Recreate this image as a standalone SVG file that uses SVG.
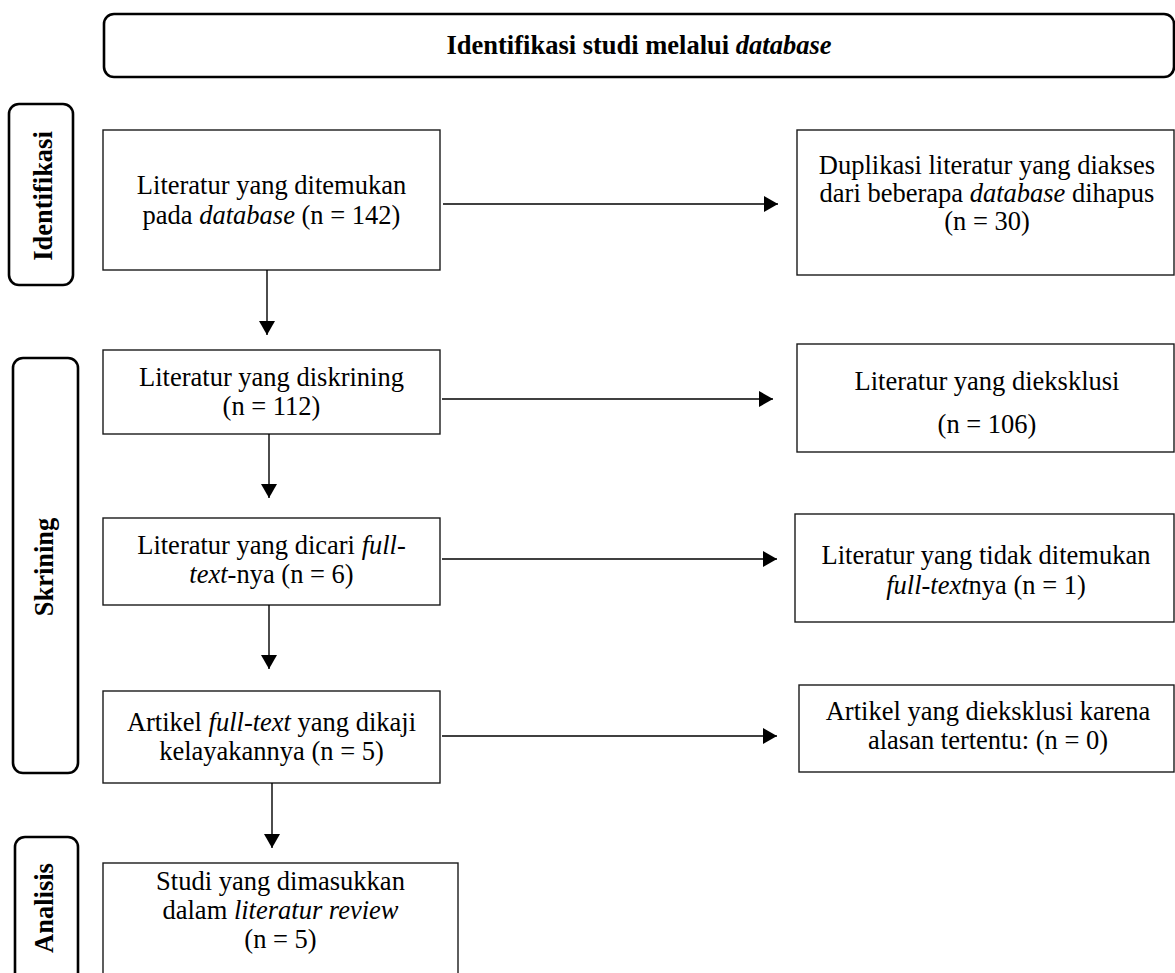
<svg xmlns="http://www.w3.org/2000/svg" width="1175" height="973" viewBox="0 0 1175 973">
<defs>
<marker id="ah" markerUnits="userSpaceOnUse" markerWidth="16" markerHeight="16" refX="14" refY="8" orient="auto">
<path d="M0,0 L14,8 L0,16 z" fill="#000"/>
</marker>
<style>
.box{fill:#fff;stroke:#1a1a1a;stroke-width:1.4}
.tag{fill:#fff;stroke:#000;stroke-width:2.6}
text{font-family:'Liberation Serif',Tinos,'Times New Roman',serif;font-size:26.5px;fill:#000;text-anchor:middle}
.b{font-weight:bold}
.i{font-style:italic}
.c{fill:none;stroke:#000;stroke-width:1.4;marker-end:url(#ah)}
</style>
</defs>
<rect width="1175" height="973" fill="#fff"/>

<g id="header">
<rect class="tag" x="104" y="14" width="1070" height="63" rx="10"/>
<text class="b" x="639" y="54">Identifikasi studi melalui <tspan class="i">database</tspan></text>
</g>

<g id="tag-identifikasi">
<rect class="tag" x="9" y="104" width="64" height="181" rx="10"/>
<text class="b" transform="translate(52,196) rotate(-90)">Identifikasi</text>
</g>
<g id="tag-skrining">
<rect class="tag" x="13" y="358" width="65" height="415" rx="10"/>
<text class="b" transform="translate(53,567) rotate(-90)">Skrining</text>
</g>
<g id="tag-analisis">
<rect class="tag" x="15" y="837" width="63" height="160" rx="10"/>
<text class="b" transform="translate(53,908) rotate(-90)">Analisis</text>
</g>

<g id="n1">
<rect class="box" x="103" y="130" width="337" height="140"/>
<text x="271.5" y="194">Literatur yang ditemukan</text>
<text x="271.5" y="224">pada <tspan class="i">database</tspan> (n = 142)</text>
</g>
<g id="n2">
<rect class="box" x="797" y="130" width="377" height="145"/>
<text x="987" y="174">Duplikasi literatur yang diakses</text>
<text x="987" y="202">dari beberapa <tspan class="i">database</tspan> dihapus</text>
<text x="987" y="230">(n = 30)</text>
</g>
<g id="n3">
<rect class="box" x="103" y="350" width="337" height="84"/>
<text x="271.5" y="386">Literatur yang diskrining</text>
<text x="271.5" y="415">(n = 112)</text>
</g>
<g id="n4">
<rect class="box" x="797" y="344" width="377" height="108"/>
<text x="987" y="390">Literatur yang dieksklusi</text>
<text x="987" y="433">(n = 106)</text>
</g>
<g id="n5">
<rect class="box" x="103" y="518" width="337" height="87"/>
<text x="271.5" y="554">Literatur yang dicari <tspan class="i">full-</tspan></text>
<text x="271.5" y="583"><tspan class="i">text</tspan>-nya (n = 6)</text>
</g>
<g id="n6">
<rect class="box" x="795" y="514" width="379" height="108"/>
<text x="986" y="564">Literatur yang tidak ditemukan</text>
<text x="986" y="594"><tspan class="i">full-text</tspan>nya (n = 1)</text>
</g>
<g id="n7">
<rect class="box" x="103" y="691" width="337" height="92"/>
<text x="271.5" y="731">Artikel <tspan class="i">full-text</tspan> yang dikaji</text>
<text x="271.5" y="760">kelayakannya (n = 5)</text>
</g>
<g id="n8">
<rect class="box" x="799" y="685" width="375" height="87"/>
<text x="988" y="720">Artikel yang dieksklusi karena</text>
<text x="988" y="749">alasan tertentu: (n = 0)</text>
</g>
<g id="n9">
<rect class="box" x="103" y="863" width="355" height="130"/>
<text x="280.5" y="890">Studi yang dimasukkan</text>
<text x="280.5" y="919">dalam <tspan class="i">literatur review</tspan></text>
<text x="280.5" y="948">(n = 5)</text>
</g>

<g id="connectors">
<line class="c" x1="443" y1="204" x2="778" y2="204"/>
<line class="c" x1="442" y1="399" x2="773" y2="399"/>
<line class="c" x1="442" y1="559" x2="777" y2="559"/>
<line class="c" x1="442" y1="736" x2="777" y2="736"/>
<line class="c" x1="267" y1="270" x2="267" y2="335"/>
<line class="c" x1="269" y1="434" x2="269" y2="498"/>
<line class="c" x1="269" y1="605" x2="269" y2="669"/>
<line class="c" x1="272" y1="783" x2="272" y2="848"/>
</g>
</svg>
